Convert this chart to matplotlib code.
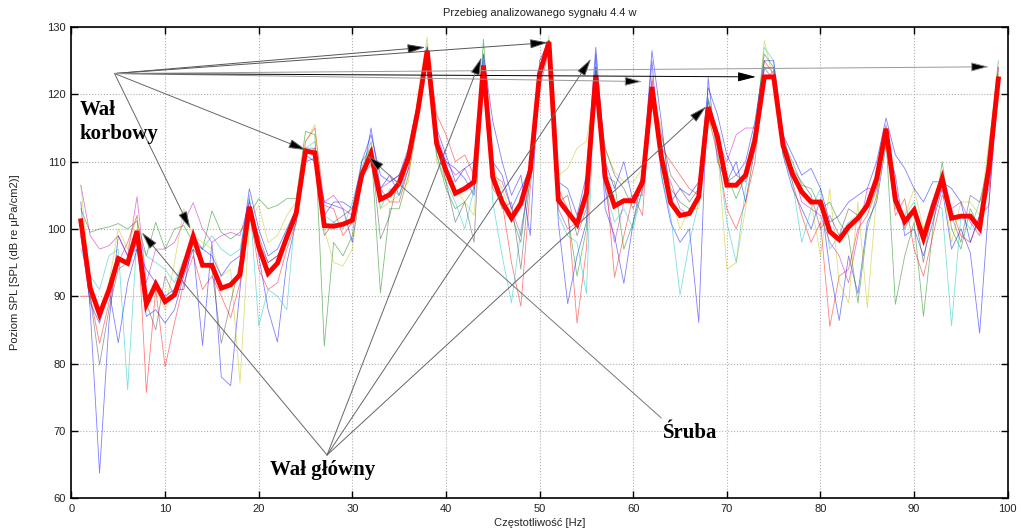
import numpy as np
import matplotlib
matplotlib.use('Agg')
import matplotlib.pyplot as plt

plt.rcParams['font.family'] = ['Liberation Sans', 'DejaVu Sans']

freq = list(range(1, 100))

# mean curve (thick red)
mean_spl = [101.2, 91.2, 87.3, 90.9, 95.6, 94.9, 99.7, 88.8, 91.8, 89.2,
            90.2, 94.4, 98.9, 94.6, 94.6, 91.2, 91.7, 93.2, 103.3, 97.3,
            93.4, 94.9, 98.8, 102.3, 111.6, 111.3, 100.5, 100.4, 100.7, 101.3,
            108.0, 111.2, 104.4, 105.1, 106.8, 110.7, 117.6, 126.5, 112.7, 108.7,
            105.3, 106.0, 107.0, 124.3, 107.7, 104.0, 101.6, 103.8, 108.7, 123.1,
            127.8, 104.3, 102.5, 100.7, 105.3, 122.8, 107.7, 103.4, 104.2, 104.2,
            107.0, 121.1, 110.7, 103.9, 102.0, 102.3, 104.8, 118.1, 113.7, 106.5,
            106.5, 108.0, 113.2, 122.6, 122.6, 112.4, 108.2, 105.5, 104.0, 104.0,
            99.6, 98.4, 100.3, 101.6, 103.5, 107.5, 114.9, 104.3, 101.1, 102.8,
            98.6, 103.3, 107.5, 101.6, 101.9, 101.9, 100.1, 109.2, 122.3]

# single measurements (thin lines)
meas_b1 = [104, 88, 63.7, 86, 99, 96, 97, 87, 88, 86, 88, 93, 97, 82.7, 98, 78, 76.7, 91, 104.5, 96,
           88, 83.2, 95, 101, 110, 110.5, 104, 103.5, 103, 98, 107, 115, 106, 108, 105, 109, 118, 126, 113, 110,
           109, 107.5, 105, 124, 110, 108, 103, 106, 109, 122, 127, 101, 88.9, 96, 101, 126, 103, 99, 91.9, 101,
           108, 125, 108, 101, 98, 100, 86.1, 122.5, 110, 107, 110, 104, 112, 124, 124, 111, 106, 103, 100, 104.5,
           94, 86.4, 96, 90.4, 101, 104, 112.5, 108, 99, 100, 96, 101, 106, 97, 100, 96.5, 84.5, 104, 121]
meas_g = [103, 99.5, 100, 100.3, 100.8, 100, 101.2, 96, 101, 97, 100, 100.5, 98, 97, 102.7, 99.5, 98.5, 99.5, 102, 104.5,
          103, 103.5, 104.5, 104.5, 114.5, 114, 82.6, 98, 96, 99, 110, 112, 90.5, 103, 103, 108, 116, 127, 111, 106,
          103, 104, 106, 128.2, 107, 104.5, 102, 98, 109, 123, 128, 104.5, 102, 93, 100, 124, 108, 107, 97, 101,
          106, 120, 112, 106, 104, 103, 104, 119.5, 114, 108, 104.5, 108, 115, 126, 124, 113, 110, 106.5, 106, 103,
          104, 101, 99, 89, 100, 105, 113.5, 88.8, 96, 101, 87, 100, 110, 100, 97, 103, 100, 112, 125]
meas_r = [90, 90, 83, 89, 95, 98, 102, 75.7, 91, 79.5, 86, 92, 96, 91, 93, 90, 86.8, 92, 103, 94,
          91, 92, 97, 101, 113, 115, 103.5, 103, 99, 101, 108, 109.5, 106, 104, 104, 109, 116.5, 127, 117, 114,
          110, 111, 108, 121, 106, 104, 95, 88.5, 106, 121, 126.5, 106, 103, 86, 97, 124, 109, 92.8, 99, 105,
          102, 122.5, 112, 110, 108, 106, 105, 117, 111, 103, 100, 104, 110, 125, 123, 112, 107, 102, 98, 101,
          85.5, 93, 94, 100, 102, 106, 113.5, 102, 104.5, 97, 93, 99, 105, 103, 99, 98, 102, 103.5, 124]
meas_c = [97, 93, 91, 96, 97, 76.1, 99, 96, 95, 94, 92, 95.5, 98, 97, 99, 97, 96, 97, 105, 85.6,
          91, 90, 88, 104, 112, 113, 102, 101, 100, 104, 109, 113, 103, 106, 105, 110, 118.5, 127.5, 111, 107,
          104, 100, 106, 126, 104, 96, 89, 100, 107, 124, 128, 102, 99, 98, 90.4, 125, 106, 101, 103, 100,
          106, 121, 108, 102, 90.2, 98, 104, 119, 112, 101, 95, 106, 114, 127, 125, 111, 107, 98, 103, 106,
          97, 99, 101, 102, 104, 107, 113.5, 103, 102, 104, 99, 104, 103, 85.6, 102, 100, 104, 108, 123]
meas_m = [106.5, 99, 97, 97.5, 99, 96, 104.8, 92, 97, 97, 98, 101, 103.9, 100, 98, 99, 99.5, 99, 104, 98,
          95, 96, 99, 103, 111, 112, 104, 105, 103, 102, 107, 112, 106, 107, 108, 111, 117, 125.5, 114, 110,
          108, 109, 106, 124, 108, 107, 103, 99, 109, 123, 127, 103, 100, 101, 104, 123, 106, 98, 104, 105,
          105, 122, 110, 107, 103, 102, 105, 117, 113, 110, 114, 115, 115, 122, 123.5, 112, 109, 104, 103, 102,
          98, 96, 92, 99, 106, 106, 114, 105, 101, 103, 98, 102, 106.5, 103, 104, 101, 99, 108, 122]
meas_y = [106.5, 92, 88, 92, 100, 97, 102, 90, 91, 88, 95, 103, 99, 98, 97, 93, 94, 77.1, 101, 103.5,
          98, 99, 102, 104, 113, 115.5, 100, 95, 94.5, 97, 108, 113, 103, 104, 105, 107, 120, 128.5, 110, 107,
          106, 104, 102, 122, 109, 106, 102, 104, 108, 122, 128.7, 108, 109, 112, 113, 122, 112, 108.5, 107, 107,
          109, 120, 115, 105, 100, 103, 103, 116.5, 112, 94, 95, 103, 113, 128, 122, 113, 108, 106, 104, 96,
          106, 92, 89, 104, 88.3, 105, 113, 103, 102, 106, 100, 104, 107, 98, 104, 104, 102, 113, 123]
meas_k = [101, 90, 79.8, 88, 94, 95, 98, 89, 85, 93, 90, 95, 97, 95, 94, 83, 89, 95, 102, 99,
          95, 96, 98, 102, 112, 112, 99, 101, 102, 103, 108, 112, 98.5, 102, 108, 110, 118, 126, 113, 107,
          101, 104, 98, 125, 107, 103, 104, 94, 108, 123, 128, 104, 105, 99, 103, 124, 112, 108, 106, 103,
          107, 121, 114, 108, 106, 104, 106, 119, 114, 107, 108, 107, 112, 124, 122, 114, 109, 107, 105, 100,
          102, 99, 103, 102, 104, 107, 115.5, 106, 100, 103, 95, 104, 108, 102, 98, 105, 104, 110, 124]
meas_b2 = [99, 89, 86, 91, 83.1, 92, 97, 94, 92, 90, 91, 91, 99, 97, 96, 93, 95, 96, 106, 100,
           96, 97, 100, 103, 111, 110, 102, 104, 104, 103, 110, 114, 108, 107, 108, 112, 119, 127, 115, 111,
           107, 109, 110, 126, 116, 110, 105, 108, 99, 125, 128, 107, 106, 102, 108, 127, 110, 106, 110, 104,
           108, 126.5, 116, 104, 106, 105, 107, 121, 117, 111, 108, 110, 116, 125, 125, 114, 111, 108, 109, 106,
           101, 102, 104, 105, 106, 110, 116.5, 111, 109, 106, 104, 107, 107, 106, 104, 98, 102, 106, 121]

thin_series = [meas_b1, meas_g, meas_r, meas_c, meas_m, meas_y, meas_k, meas_b2]
thin_colors = ['#0000ff', '#008000', '#ff0000', '#00bfbf', '#bf00bf', '#bfbf00', '#404040', '#0000ff']

# annotation anchors (data coords)
korb_start = (4.6, 123.1)
korb_targets = [(25.1, 111.7), (12.7, 100.0), (37.8, 127.0), (50.9, 127.7),
                (61.0, 121.9), (73.1, 122.6), (98.0, 124.1)]
korb_colors = ['#666666', '#666666', '#555555', '#555555', '#999999', '#000000', '#999999']
glow_start = (27.3, 66.4)
glow_targets = [(7.5, 99.5), (43.8, 125.5), (55.5, 125.3), (67.8, 118.2)]
sruba_start = (63.0, 71.9)
sruba_target = (31.6, 110.9)

fig = plt.figure(figsize=(10.21, 5.31), dpi=100)
ax = fig.add_axes([0.070, 0.062, 0.917, 0.887])

for s, c in zip(thin_series, thin_colors):
    ax.plot(freq, s, color=c, lw=0.6, alpha=0.5)
ax.plot(freq, mean_spl, color='#ff0000', lw=3.5, solid_joinstyle='miter')

def arrow(start, end, color):
    ax.annotate('', xy=end, xytext=start, annotation_clip=False,
                arrowprops=dict(arrowstyle='-|>,head_length=0.85,head_width=0.22',
                                lw=0.7, color=color, fc='black',
                                shrinkA=0, shrinkB=0, mutation_scale=13))

for t, c in zip(korb_targets, korb_colors):
    arrow(korb_start, t, c)
for t in glow_targets:
    arrow(glow_start, t, '#666666')
arrow(sruba_start, sruba_target, '#777777')

serif = dict(family='Liberation Serif', weight='bold', fontsize=15, color='black')
ax.text(0.9, 117.0, 'Wał', ha='left', va='baseline', **serif)
ax.text(0.9, 113.4, 'korbowy', ha='left', va='baseline', **serif)
ax.text(21.2, 63.5, 'Wał główny', ha='left', va='baseline', **serif)
ax.text(63.2, 69.0, 'Śruba', ha='left', va='baseline', **serif)

ax.set_xlim(0, 100)
ax.set_ylim(60, 130)
ax.set_xticks(np.arange(0, 101, 10))
ax.set_yticks(np.arange(60, 131, 10))
ax.grid(True, color='#b0b0b0', linestyle=':', lw=0.8)
ax.tick_params(direction='in', length=5, width=1, labelsize=8, labelcolor='#222222',
               top=True, right=True, pad=4)
for sp in ax.spines.values():
    sp.set_linewidth(1.2)

ax.set_title('Przebieg analizowanego sygnału 4.4 w', fontsize=8, pad=8, color='#222222')
ax.set_xlabel('Częstotliwość [Hz]', fontsize=8, labelpad=3, color='#222222')
ax.set_ylabel('Poziom SPL [SPL (dB re μPa/cm2)]', fontsize=8, labelpad=20, color='#222222')

fig.savefig('out.png', dpi=100)
